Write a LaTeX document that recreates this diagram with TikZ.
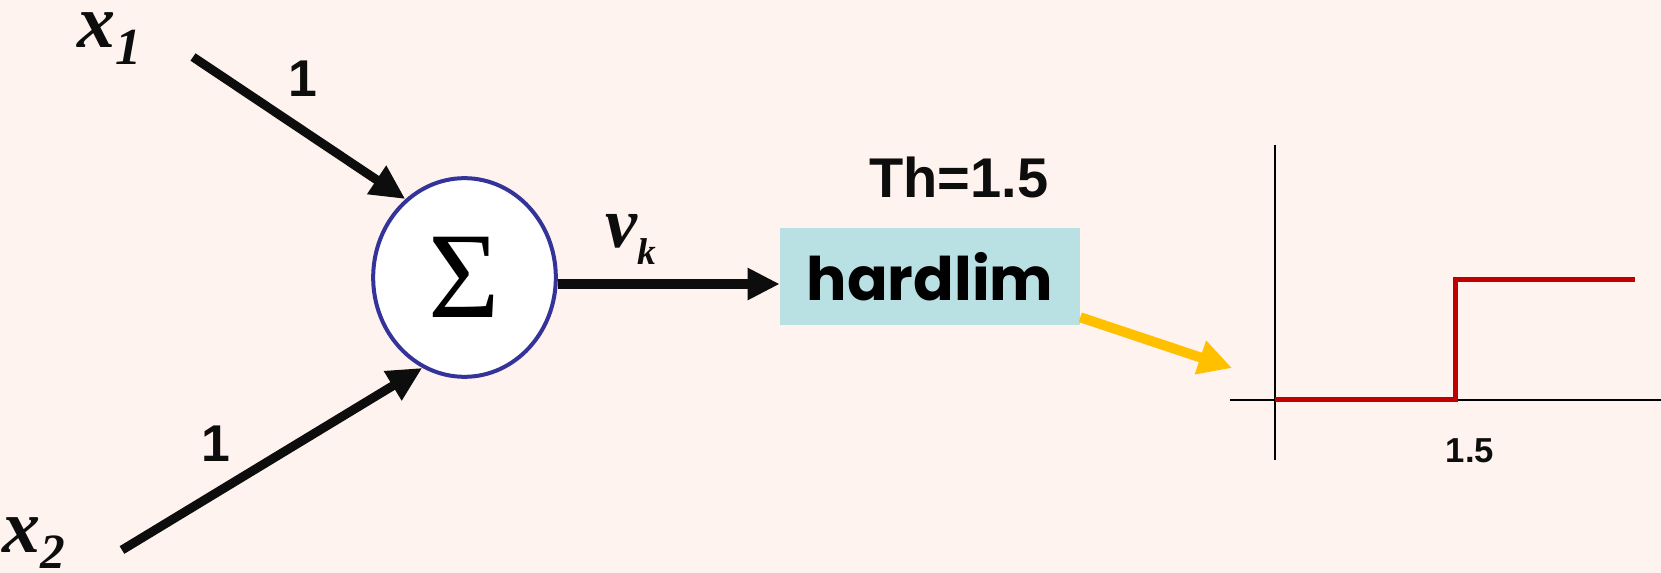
\documentclass[tikz,border=0pt]{standalone}
\usepackage{fontspec}
\usetikzlibrary{arrows.meta,shapes.geometric}
\newfontfamily\myserifA{Liberation Serif}
\newfontfamily\mysansA{Liberation Sans}
\newfontfamily\mypopA{Poppins}
\definecolor{bgc}{HTML}{FEF3EE}
\definecolor{ringc}{HTML}{333399}
\definecolor{boxc}{HTML}{B9E0E3}
\definecolor{yelc}{HTML}{FFC000}
\definecolor{redc}{HTML}{C00000}
\definecolor{inkc}{HTML}{0D0D0D}
\begin{document}
\begin{tikzpicture}[x=0.75pt,y=-0.75pt,
  sumnode/.style={ellipse,draw=ringc,line width=3pt,fill=white,minimum width=137pt,minimum height=149pt,inner sep=0pt},
  hlbox/.style={rectangle,fill=boxc,minimum width=225pt,minimum height=72.75pt,inner sep=0pt},
  lbl/.style={inner sep=0pt,text=inkc},
  blk/.style={draw=inkc,line width=6.75pt,-{Triangle[length=26pt,width=24pt]}},
  yel/.style={draw=yelc,line width=7.5pt,-{Triangle[length=25pt,width=25pt]}},
  axisline/.style={draw=black,line width=1.5pt},
  stepline/.style={draw=redc,line width=3.75pt,line join=miter}]
\fill[bgc] (0,0) rectangle (1661,573);
\useasboundingbox (0,0) rectangle (1661,573);

% nodes
\node[sumnode] (sum) at (464.5,277.5) {\myserifA\fontsize{92pt}{92pt}\selectfont Σ};
\node[hlbox] (hl) at (930,276.5) {\mypopA\bfseries\fontsize{45pt}{45pt}\selectfont hardlim};

\node[lbl,anchor=base west] (x1) at (77,48) {\myserifA\bfseries\itshape\fontsize{57pt}{57pt}\selectfont x\raisebox{-12.75pt}{\fontsize{39pt}{39pt}\selectfont 1}};
\node[lbl,anchor=base west] (x2) at (2,552) {\myserifA\bfseries\itshape\fontsize{57pt}{57pt}\selectfont x\raisebox{-12pt}{\fontsize{37pt}{37pt}\selectfont 2}};
\node[lbl,anchor=base] (w1) at (303,97) {\mysansA\bfseries\fontsize{38.8pt}{38.8pt}\selectfont 1};
\node[lbl,anchor=base] (w2) at (216,462) {\mysansA\bfseries\fontsize{38.8pt}{38.8pt}\selectfont 1};
\node[lbl,anchor=base west] (vk) at (605,248) {\myserifA\bfseries\itshape\fontsize{54pt}{54pt}\selectfont v\raisebox{-12.75pt}{\fontsize{28pt}{28pt}\selectfont k}};
\node[lbl,anchor=base] (th) at (959,198) {\mysansA\bfseries\fontsize{42pt}{42pt}\selectfont Th=1.5};
\node[lbl,anchor=base] (tick) at (1470,463) {\mysansA\bfseries\fontsize{26pt}{26pt}\selectfont 1.5};

% connectors
\coordinate (s1) at (193,57);
\coordinate (s2) at (122,550);
\coordinate (ytip) at (1232,368);
\draw[blk] (s1) -- (sum.127.5);
\draw[blk] (s2) -- (sum.245.7);
\draw[blk,line width=7.5pt,-{Triangle[length=24pt,width=22.5pt]}] (sum.-4) -- (sum.-4 -| hl.west);
\draw[yel] ([yshift=6pt]hl.south east) -- (ytip);

% step plot
\coordinate (ytop) at (1275,145);
\coordinate (ybot) at (1275,460);
\coordinate (xl) at (1230,400);
\coordinate (xr) at (1661,400);
\draw[axisline] (ytop) -- (ybot);
\draw[axisline] (xl) -- (xr);
\draw[stepline] (1275,400) -- (1455,400) -- (1455,280) -- (1635,280);
\end{tikzpicture}
\end{document}
